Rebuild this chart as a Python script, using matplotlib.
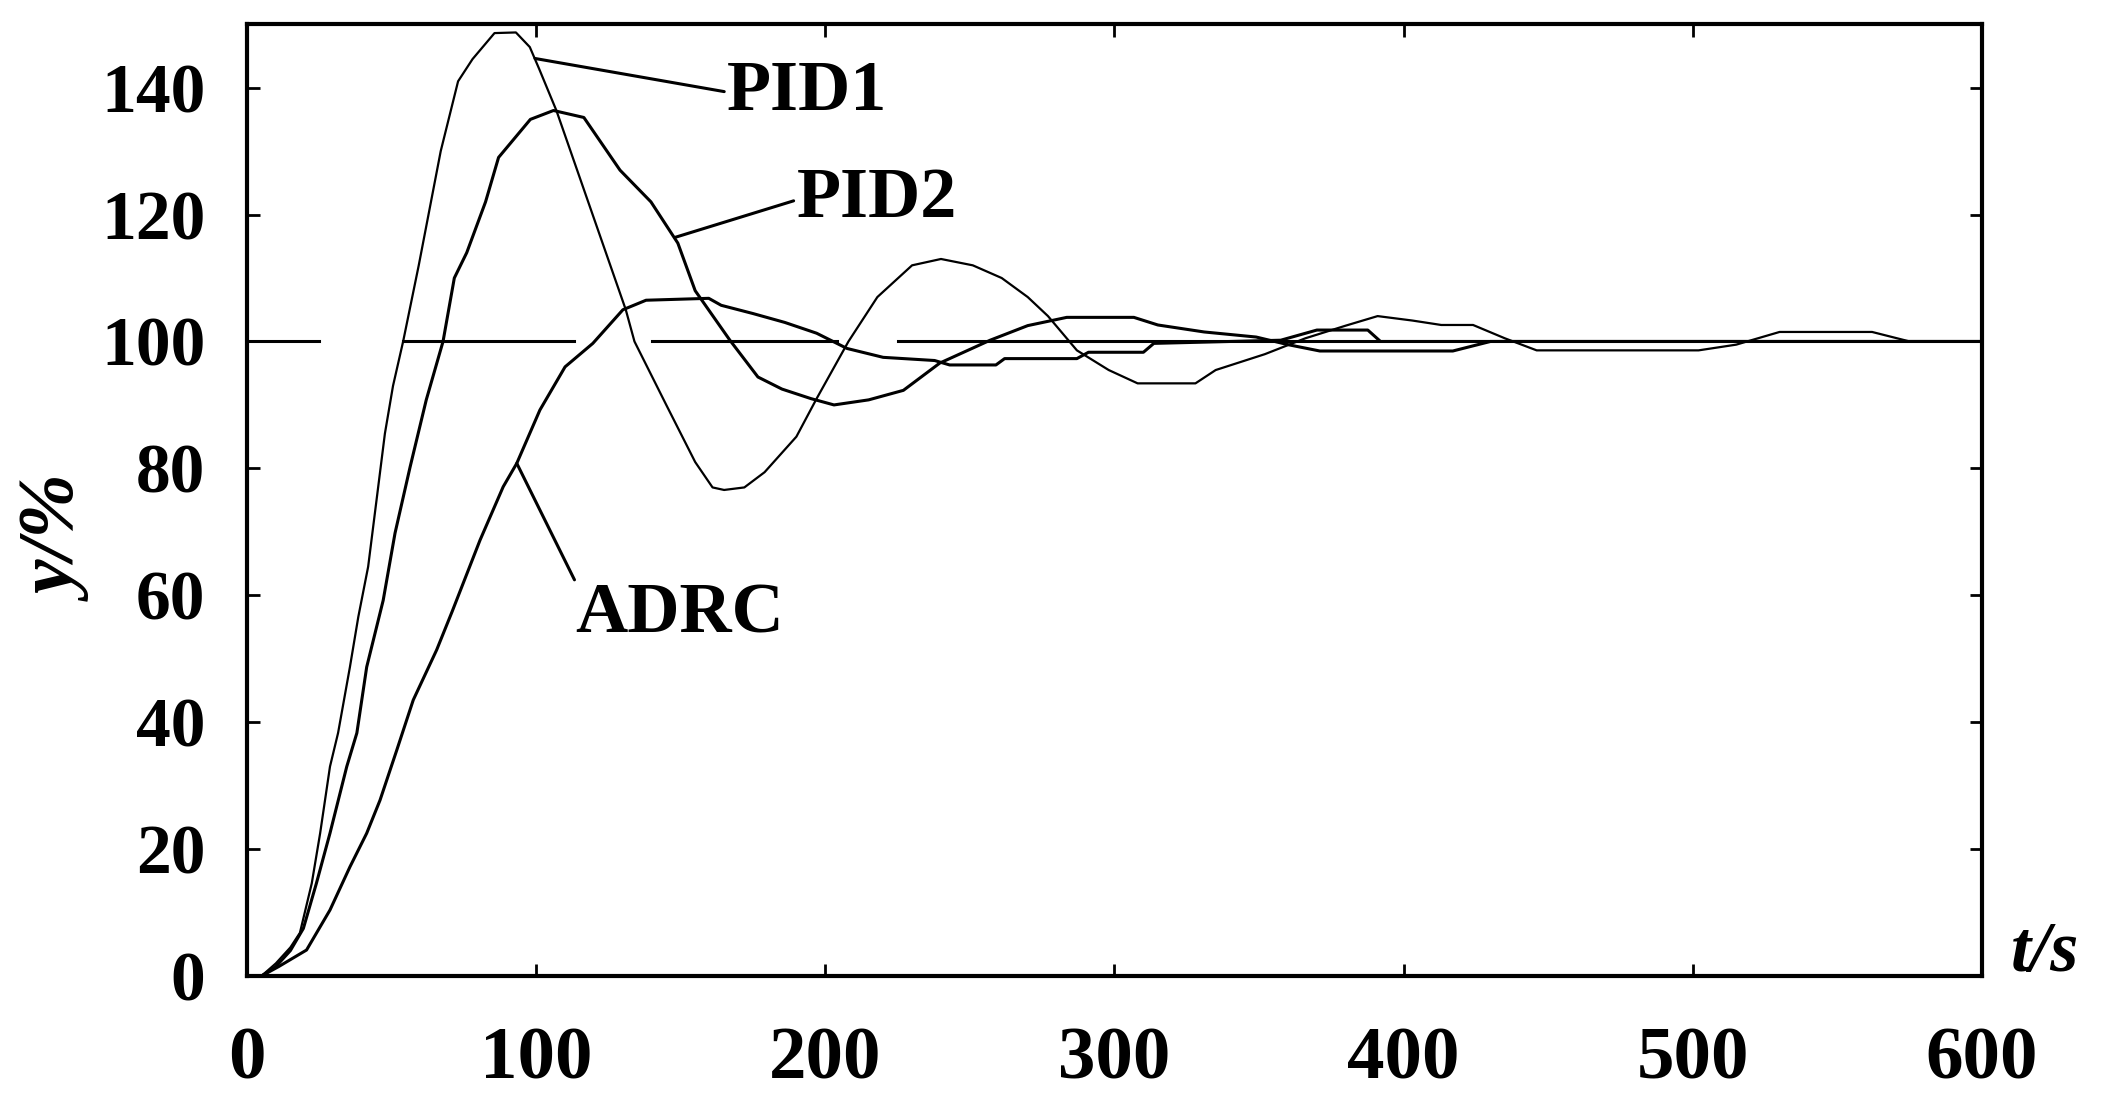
import matplotlib
matplotlib.use("Agg")
import matplotlib.pyplot as plt

# values (t in s, y in %)
pid1_t = [0, 5, 10, 15, 18.3, 22.4, 25.3, 28.7, 31.5, 35.6, 38.5, 41.9, 44.8, 47.7, 50.5, 54,
          59.4, 67, 73, 78, 85.6, 93, 97.8, 101, 107, 118, 131, 134, 145, 155, 161, 165, 172, 179,
          190, 197, 208, 218, 230, 240, 251, 261, 270, 277, 287, 298, 308, 328, 335, 352, 366, 380,
          391, 403, 413, 424, 435, 446, 502, 515, 530, 562, 575, 600]
pid1_y = [0, 0, 2, 4.5, 6.8, 14.6, 22.5, 33, 38.3, 48.7, 56.6, 64.5, 75, 85.5, 93, 100,
          112, 130, 141, 144.5, 148.6, 148.7, 146.4, 143, 136.4, 122, 105, 100, 90, 81, 77, 76.6, 77, 79.4,
          85, 91, 100, 107, 112, 113, 112, 110, 107, 104, 98.6, 95.5, 93.4, 93.4, 95.5, 98, 100.5, 102.5,
          104, 103.3, 102.6, 102.6, 100.5, 98.6, 98.6, 99.5, 101.5, 101.5, 100, 100]

pid2_t = [0, 5, 10, 15, 19.5, 24, 28.7, 34.5, 38, 41.4, 47.1, 51.2, 56.4, 62, 67.8, 71.7, 76, 82.5,
          87, 98, 106, 116.5, 129, 139.7, 149, 155, 167, 176.7, 185, 195, 203, 215, 227, 239.6,
          257, 270, 283.5, 306.7, 315, 331, 349, 360, 371, 417, 430, 600]
pid2_y = [0, 0, 1.5, 4, 7.5, 14.6, 22.5, 33, 38.3, 48.7, 59.2, 69.8, 80.2, 90.8, 100, 110, 114, 122,
          129, 135, 136.4, 135.3, 127, 122, 115.5, 108, 100.2, 94.4, 92.5, 91, 90, 90.8, 92.3, 96.6,
          100.2, 102.5, 103.8, 103.8, 102.6, 101.5, 100.7, 99.5, 98.5, 98.5, 100, 100]

adrc_t = [0, 5, 11, 20.6, 28.7, 35.6, 41.4, 46, 51.8, 57.5, 65.6, 71, 80.6, 88.6, 93.3, 101.3,
          110, 119.6, 130, 138, 159.7, 164, 175, 186, 197, 207.5, 220, 237.8, 243, 259,
          262, 287, 291, 310, 313.6, 357.5, 370, 387.6, 392, 600]
adrc_y = [0, 0, 1.5, 4.1, 10.4, 17.2, 22.5, 27.7, 35.6, 43.5, 51.4, 57.5, 68.7, 77.1, 80.8, 89.2,
          96, 99.7, 105, 106.5, 106.8, 105.7, 104.4, 103, 101.3, 98.9, 97.5, 97, 96.3, 96.3,
          97.3, 97.3, 98.3, 98.3, 99.7, 100.2, 101.8, 101.8, 100, 100]

# setpoint line at 100 %, drawn in pieces like the scan
setpoint = 100
setpoint_segments = [(0, 25), (54, 113), (140, 204), (225, 600)]

x_ticks = [0, 100, 200, 300, 400, 500, 600]
y_ticks = [0, 20, 40, 60, 80, 100, 120, 140]

serif = ["Liberation Serif", "DejaVu Serif"]

fig = plt.figure(figsize=(21.2, 11), dpi=100)
ax = fig.add_axes([0.1165, 0.1127, 0.8184, 0.8653])

for a, b in setpoint_segments:
    ax.plot([a, b], [setpoint, setpoint], color="black", lw=2.2)

ax.plot(pid1_t, pid1_y, color="black", lw=1.6)
ax.plot(pid2_t, pid2_y, color="black", lw=2.2)
ax.plot(adrc_t, adrc_y, color="black", lw=2.2)

# leader lines and labels
lead = dict(arrowstyle="-", lw=2.2, color="black", shrinkA=0, shrinkB=0)
ax.annotate("PID1", xy=(99.6, 144.6), xytext=(166, 139.3), textcoords="data",
            ha="left", va="center", fontsize=52, fontweight="bold", family=serif,
            arrowprops=dict(lead, relpos=(0, 0.5)))
ax.annotate("PID2", xy=(148, 116.4), xytext=(190, 122.3), textcoords="data",
            ha="left", va="center", fontsize=52, fontweight="bold", family=serif,
            arrowprops=dict(lead, relpos=(0, 0.5)))
ax.annotate("ADRC", xy=(93.3, 80.8), xytext=(113.4, 62), textcoords="data",
            ha="left", va="top", fontsize=52, fontweight="bold", family=serif,
            arrowprops=dict(lead, relpos=(0.02, 0.9)))

ax.set_xlim(0, 600)
ax.set_ylim(0, 150)
ax.set_xticks(x_ticks)
ax.set_yticks(y_ticks)
ax.tick_params(direction="in", length=9, width=2, top=True, right=True)
ax.tick_params(axis="x", pad=36)
ax.tick_params(axis="y", pad=30)
for lab in ax.get_xticklabels():
    lab.set_fontfamily(serif)
    lab.set_fontweight("bold")
    lab.set_fontsize(54)
for lab in ax.get_yticklabels():
    lab.set_fontfamily(serif)
    lab.set_fontweight("bold")
    lab.set_fontsize(50)
for sp in ax.spines.values():
    sp.set_linewidth(3)

fig.text(61 / 2120, 1 - 541 / 1100, "y/%", rotation=90, ha="center", va="center",
         fontsize=56, fontstyle="italic", fontweight="bold", family=serif)
fig.text(2045 / 2120, 1 - 953 / 1100, "t/s", ha="center", va="center",
         fontsize=52, fontstyle="italic", fontweight="bold", family=serif)

fig.savefig("out.png", dpi=100)
